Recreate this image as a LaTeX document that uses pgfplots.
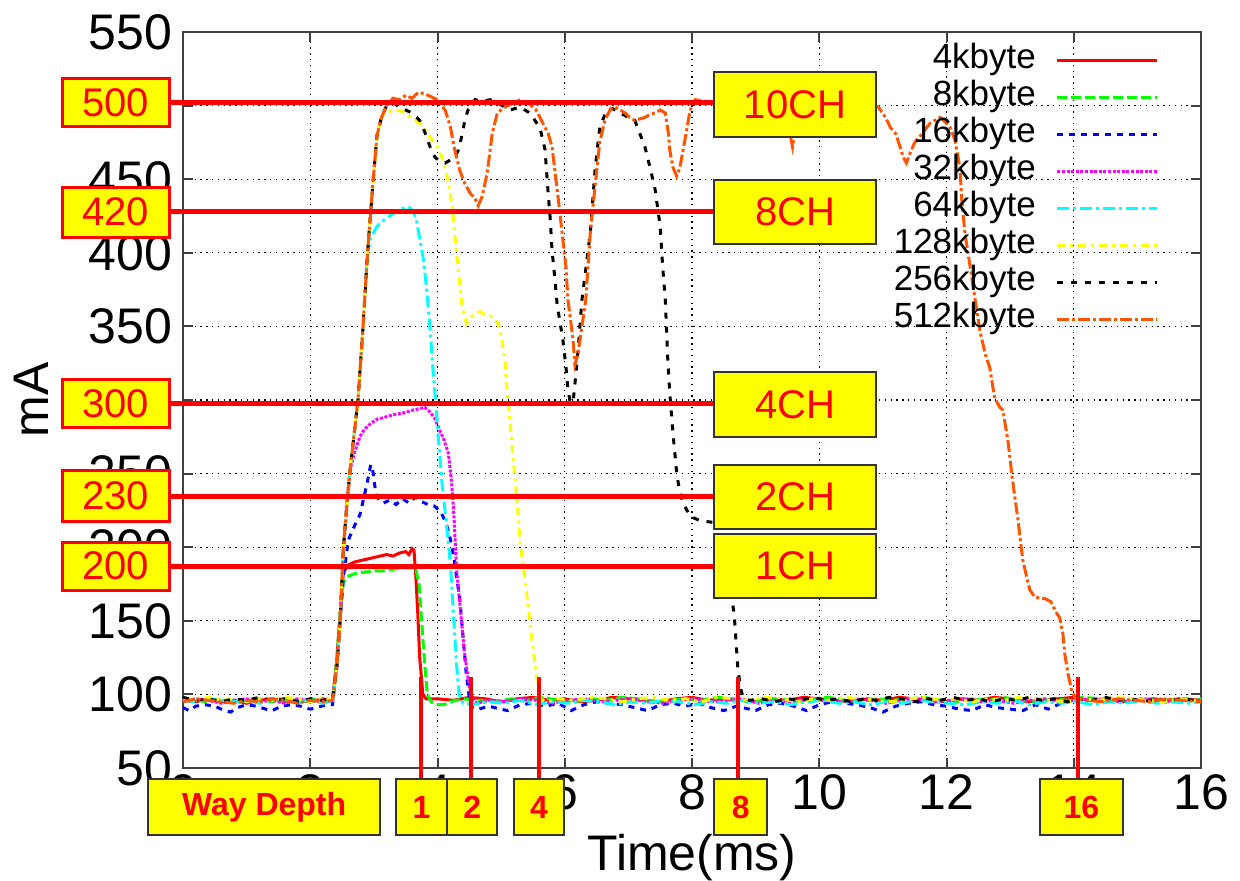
\documentclass[border=0pt]{standalone}
\usepackage{fontspec}
\setmainfont{Liberation Sans}
\usepackage{pgfplots}
\pgfplotsset{compat=1.18}
\usetikzlibrary{calc}
\definecolor{cgreen}{RGB}{0,255,0}
\definecolor{cblue}{RGB}{0,0,255}
\definecolor{cmag}{RGB}{255,0,255}
\definecolor{ccyan}{RGB}{0,255,255}
\definecolor{cyel}{RGB}{255,255,0}
\definecolor{corange}{RGB}{255,85,0}
\definecolor{boxyel}{RGB}{255,255,0}
\begin{document}
\begin{tikzpicture}
\begin{axis}[
  scale only axis, width=509pt, height=368pt,
  xmin=0, xmax=16, ymin=50, ymax=550,
  xtick={0,2,...,16}, ytick={50,100,...,550},
  tick pos=both, tick align=inside, major tick length=5pt,
  grid=major, major grid style={black, line width=0.6pt, dash pattern=on 0.7pt off 2.2pt},
  axis line style={black!75, line width=1pt},
  tick style={black!75, line width=1pt},
  ticklabel style={font=\fontsize{25}{25}\selectfont},
  /pgf/number format/assume math mode=true,
  yticklabel style={xshift=-2pt},
  xlabel={Time(ms)}, ylabel={mA},
  label style={font=\fontsize{25}{25}\selectfont},
  xlabel style={at={(axis description cs:0.5,-0.122)}, anchor=center},
  ylabel style={at={(axis description cs:-0.149,0.5)}, anchor=center},
  clip=false,
  legend style={draw=none, fill=none, at={(0.959,0.987)}, anchor=north east, inner sep=0pt,
    font=\fontsize{17.5}{18}\selectfont,
    nodes={inner sep=1pt, text height=12.5pt, text depth=4pt},
    /tikz/every odd column/.append style={column sep=9pt}},
  legend plot pos=right, legend cell align=right,
  legend image code/.code={\draw[#1] (0pt,0pt) -- (50pt,0pt);},
]
% 4kbyte
\addplot[red, line width=1.5pt] coordinates {
(0,96)(0.2,95)(0.4,97)(0.6,95)(0.8,96)(1.0,94)(1.2,96)(1.4,97)(1.6,95)(1.8,96)(2.0,95)(2.2,97)(2.35,96)
(2.42,125)(2.47,155)(2.52,183)(2.6,188)(2.7,190)(2.8,191)(2.9,192)(3.0,193)(3.1,194)(3.2,195)(3.3,194)(3.4,196)(3.5,197)(3.55,195)(3.6,199)(3.63,198)(3.66,180)(3.69,155)(3.72,125)(3.77,100)(3.82,97)
(4.0,97)(4.25,96)(4.5,98)(4.75,97)(5.0,95)(5.25,97)(5.5,98)(5.75,96)(6.0,97)(6.25,95)(6.5,96)(6.75,98)(7.0,97)(7.25,96)(7.5,95)(7.75,97)(8.0,98)(8.25,96)(8.5,97)(8.75,96)(9.0,95)(9.25,97)(9.5,96)(9.75,98)(10.0,97)(10.25,96)(10.5,95)(10.75,97)(11.0,96)(11.25,98)(11.5,97)(11.75,96)(12.0,95)(12.25,97)(12.5,96)(12.75,98)(13.0,97)(13.25,95)(13.5,96)(13.75,97)(14.0,98)(14.25,96)(14.5,97)(14.75,95)(15.0,96)(15.25,97)(15.5,96)(15.75,97)(16.0,96)
};
\addlegendentry{4kbyte}
% 8kbyte
\addplot[cgreen, line width=1.5pt, dash pattern=on 5pt off 2pt] coordinates {
(0,97)(0.2,96)(0.4,95)(0.6,97)(0.8,94)(1.0,96)(1.2,97)(1.4,95)(1.6,96)(1.8,94)(2.0,97)(2.2,96)(2.35,95)
(2.42,125)(2.47,155)(2.52,176)(2.58,180)(2.7,182)(2.85,183)(3.0,184)(3.15,184)(3.3,185)(3.45,186)(3.6,186)(3.66,185)(3.71,175)(3.75,150)(3.8,120)(3.84,100)(3.9,95)(3.98,93)(4.1,93)(4.2,95)
(4.4,97)(4.65,96)(4.9,95)(5.15,97)(5.4,96)(5.65,98)(5.9,96)(6.15,95)(6.4,97)(6.65,96)(6.9,98)(7.15,97)(7.4,95)(7.65,96)(7.9,97)(8.15,96)(8.4,98)(8.65,97)(8.9,95)(9.15,96)(9.4,97)(9.65,95)(9.9,97)(10.15,98)(10.4,96)(10.65,95)(10.9,97)(11.15,96)(11.4,97)(11.65,98)(11.9,96)(12.15,95)(12.4,97)(12.65,96)(12.9,98)(13.15,96)(13.4,95)(13.65,97)(13.9,96)(14.15,98)(14.4,97)(14.65,96)(14.9,95)(15.15,97)(15.4,96)(15.65,97)(15.9,96)(16.0,97)
};
\addlegendentry{8kbyte}
% 16kbyte
\addplot[cblue, line width=1.5pt, dash pattern=on 3pt off 3pt] coordinates {
(0,91)(0.1,89)(0.2,92)(0.35,93)(0.5,92)(0.65,89)(0.75,88)(0.85,91)(1.0,93)(1.15,92)(1.3,90)(1.4,89)(1.55,92)(1.7,93)(1.85,92)(2.0,90)(2.1,91)(2.25,93)(2.35,93)
(2.42,120)(2.47,150)(2.52,180)(2.6,205)(2.7,215)(2.78,222)(2.85,235)(2.9,245)(2.95,256)(2.98,253)(3.02,240)(3.07,233)(3.15,230)(3.25,232)(3.35,229)(3.45,233)(3.55,230)(3.65,234)(3.75,231)(3.85,229)(3.95,228)(4.05,224)(4.12,218)(4.18,210)(4.25,195)(4.3,180)(4.35,165)(4.4,140)(4.45,115)(4.5,98)(4.55,91)
(4.65,90)(4.8,92)(5.0,90)(5.1,89)(5.3,93)(5.5,94)(5.7,92)(5.9,94)(6.1,89)(6.3,93)(6.5,95)(6.7,94)(6.9,93)(7.1,91)(7.3,89)(7.5,93)(7.7,94)(7.9,92)(8.1,94)(8.3,91)(8.5,89)(8.7,92)(8.9,90)(9.0,89)(9.2,93)(9.4,94)(9.6,92)(9.8,89)(10.0,93)(10.2,95)(10.4,94)(10.6,93)(10.8,91)(11.0,88)(11.2,92)(11.4,94)(11.6,95)(11.8,93)(12.0,92)(12.2,90)(12.4,89)(12.6,93)(12.8,91)(13.0,90)(13.2,89)(13.4,93)(13.6,90)(13.8,94)
};
\addlegendentry{16kbyte}
% 32kbyte
\addplot[cmag, line width=1.5pt, dash pattern=on 1.5pt off 0.8pt] coordinates {
(0,95)(0.2,97)(0.4,96)(0.6,94)(0.8,96)(1.0,97)(1.2,95)(1.4,96)(1.6,94)(1.8,97)(2.0,96)(2.2,95)(2.35,96)
(2.42,120)(2.47,150)(2.52,195)(2.58,235)(2.64,255)(2.7,265)(2.78,275)(2.85,280)(2.95,284)(3.05,287)(3.15,288)(3.3,290)(3.45,291)(3.6,293)(3.7,294)(3.8,295)(3.88,292)(3.95,288)(4.02,281)(4.1,273)(4.17,264)(4.22,245)(4.26,220)(4.3,185)(4.35,162)(4.42,130)(4.5,105)(4.55,97)(4.62,94)
(4.8,96)(5.05,95)(5.3,97)(5.55,96)(5.8,94)(6.05,96)(6.3,97)(6.55,95)(6.8,96)(7.05,97)(7.3,95)(7.55,94)(7.8,96)(8.05,97)(8.3,95)(8.55,96)(8.8,97)(9.05,94)(9.3,96)(9.55,95)(9.8,97)(10.05,96)(10.3,95)(10.55,97)(10.8,96)(11.05,94)(11.3,96)(11.55,97)(11.8,95)(12.05,96)(12.3,97)(12.55,95)(12.8,96)(13.05,94)(13.3,96)(13.55,97)(13.8,95)(14.05,96)(14.3,97)(14.55,96)(14.8,95)(15.05,97)(15.3,96)(15.55,95)(15.8,96)(16.0,96)
};
\addlegendentry{32kbyte}
% 64kbyte
\addplot[ccyan, line width=1.5pt, dash pattern=on 6pt off 2pt on 1.5pt off 2pt] coordinates {
(0,96)(0.2,95)(0.4,97)(0.6,96)(0.8,95)(1.0,96)(1.2,94)(1.4,96)(1.6,97)(1.8,95)(2.0,96)(2.2,94)(2.35,96)
(2.42,120)(2.47,150)(2.52,200)(2.62,250)(2.75,300)(2.83,350)(2.9,400)(2.95,410)(3.05,418)(3.15,422)(3.25,425)(3.35,428)(3.45,430)(3.55,431)(3.62,428)(3.67,422)(3.72,410)(3.78,395)(3.83,375)(3.88,350)(3.93,320)(3.97,300)(4.02,270)(4.07,244)(4.13,220)(4.2,190)(4.25,155)(4.3,120)(4.34,100)(4.4,94)
(4.55,93)(4.8,95)(5.05,94)(5.3,96)(5.55,93)(5.8,95)(6.05,94)(6.3,96)(6.55,95)(6.8,93)(7.05,95)(7.3,94)(7.55,96)(7.8,95)(8.05,93)(8.3,95)(8.55,94)(8.8,96)(9.05,94)(9.3,95)(9.55,93)(9.8,95)(10.05,96)(10.3,94)(10.55,95)(10.8,93)(11.05,95)(11.3,94)(11.55,96)(11.8,95)(12.05,94)(12.3,93)(12.55,95)(12.8,94)(13.05,96)(13.3,93)(13.55,95)(13.8,94)(14.05,95)(14.3,93)(14.55,95)(14.8,94)(15.05,96)(15.3,94)(15.55,95)(15.8,94)(16.0,95)
};
\addlegendentry{64kbyte}
% 128kbyte
\addplot[cyel, line width=1.5pt, dash pattern=on 4pt off 2.5pt on 1.5pt off 2.5pt] coordinates {
(0,97)(0.2,96)(0.4,98)(0.6,96)(0.8,97)(1.0,95)(1.2,97)(1.4,96)(1.6,98)(1.8,97)(2.0,95)(2.2,98)(2.35,96)
(2.42,120)(2.47,150)(2.52,200)(2.62,250)(2.75,300)(2.83,350)(2.9,400)(2.99,450)(3.05,480)(3.1,490)(3.15,494)(3.25,496)(3.35,497)(3.45,496)(3.55,493)(3.65,490)(3.72,488)(3.8,484)(3.88,479)(3.95,474)(4.0,472)(4.06,466)(4.12,458)(4.16,450)(4.2,440)(4.24,428)(4.27,413)(4.31,395)(4.35,379)(4.38,366)(4.42,357)(4.46,352)(4.52,356)(4.6,359)(4.67,360)(4.75,358)(4.83,357)(4.9,355)(4.95,352)(5.01,341)(5.06,327)(5.09,307)(5.14,286)(5.19,259)(5.25,232)(5.3,203)(5.38,176)(5.45,150)(5.52,125)(5.58,105)(5.62,97)(5.7,95)
(5.9,97)(6.15,96)(6.4,98)(6.65,97)(6.9,95)(7.15,97)(7.4,98)(7.65,96)(7.9,97)(8.15,95)(8.4,98)(8.65,97)(8.9,96)(9.15,98)(9.4,97)(9.65,95)(9.9,97)(10.15,96)(10.4,98)(10.65,97)(10.9,96)(11.15,95)(11.4,97)(11.65,98)(11.9,96)(12.15,97)(12.4,95)(12.65,97)(12.9,96)(13.15,98)(13.4,97)(13.65,96)(13.9,95)(14.15,97)(14.4,96)(14.65,98)(14.9,97)(15.15,96)(15.4,95)(15.65,97)(15.9,96)(16.0,97)
};
\addlegendentry{128kbyte}
% 256kbyte
\addplot[black, line width=1.5pt, dash pattern=on 3pt off 4pt] coordinates {
(0,98)(0.2,96)(0.4,97)(0.6,95)(0.8,97)(1.0,96)(1.2,98)(1.4,96)(1.6,97)(1.8,95)(2.0,97)(2.2,96)(2.35,97)
(2.42,120)(2.47,150)(2.52,200)(2.62,250)(2.75,300)(2.83,350)(2.9,400)(2.99,450)(3.05,480)(3.12,492)(3.2,500)(3.3,502)(3.4,499)(3.5,497)(3.6,495)(3.72,490)(3.8,482)(3.9,470)(3.96,465)(4.04,462)(4.12,461)(4.2,463)(4.27,465)(4.33,470)(4.38,479)(4.43,490)(4.48,497)(4.59,504)(4.7,503)(4.83,504)(4.98,501)(5.14,497)(5.3,499)(5.45,495)(5.61,485)(5.69,470)(5.74,440)(5.77,424)(5.8,402)(5.85,380)(5.88,365)(5.97,341)(6.02,322)(6.05,307)(6.08,300)(6.13,298)(6.16,311)(6.21,334)(6.27,368)(6.4,413)(6.48,458)(6.55,485)(6.66,497)(6.75,498)(6.87,495)(7.0,492)(7.1,490)(7.18,481)(7.26,472)(7.34,458)(7.42,443)(7.5,418)(7.54,390)(7.58,368)(7.62,327)(7.65,305)(7.7,278)(7.76,250)(7.81,237)(7.86,230)(7.97,221)(8.13,218)(8.31,217)(8.44,217)(8.55,195)(8.62,170)(8.67,150)(8.72,118)(8.76,105)(8.8,98)
(8.9,96)(9.1,97)(9.3,95)(9.5,97)(9.7,96)(9.9,98)(10.1,96)(10.3,97)(10.5,95)(10.7,97)(10.9,96)(11.1,98)(11.3,97)(11.5,95)(11.7,97)(11.9,96)(12.1,98)(12.3,96)(12.5,97)(12.7,95)(12.9,97)(13.1,96)(13.3,98)(13.5,96)(13.7,97)(13.9,95)(14.1,97)(14.3,96)(14.5,98)(14.7,96)(14.9,97)(15.1,95)(15.3,97)(15.5,96)(15.7,97)(15.9,96)(16.0,97)
};
\addlegendentry{256kbyte}
% 512kbyte
\addplot[corange, line width=1.5pt, dash pattern=on 6pt off 1.5pt on 1.5pt off 1.5pt] coordinates {
(0,95)(0.2,97)(0.4,96)(0.6,95)(0.8,94)(1.0,96)(1.2,95)(1.4,97)(1.6,96)(1.8,94)(2.0,96)(2.2,95)(2.35,96)
(2.42,120)(2.47,150)(2.52,200)(2.62,250)(2.75,300)(2.83,350)(2.9,400)(2.99,450)(3.05,480)(3.12,492)(3.2,500)(3.3,505)(3.4,504)(3.5,507)(3.6,505)(3.7,509)(3.8,508)(3.9,506)(4.0,504)(4.06,500)(4.12,497)(4.2,486)(4.27,470)(4.35,456)(4.43,447)(4.52,440)(4.59,437)(4.64,432)(4.7,438)(4.78,454)(4.86,481)(4.94,495)(5.06,499)(5.2,502)(5.3,504)(5.45,501)(5.55,497)(5.61,492)(5.74,481)(5.8,472)(5.85,454)(5.9,436)(5.96,413)(6.02,390)(6.05,368)(6.13,341)(6.16,324)(6.2,330)(6.24,341)(6.33,368)(6.4,413)(6.48,447)(6.55,475)(6.63,490)(6.71,497)(6.79,499)(6.87,497)(6.95,495)(7.02,492)(7.1,490)(7.18,491)(7.26,492)(7.34,494)(7.42,495)(7.5,497)(7.58,495)(7.63,481)(7.65,470)(7.7,458)(7.76,452)(7.81,458)(7.89,477)(7.97,497)(8.05,504)(8.2,503)(8.35,502)(8.5,500)(8.65,497)(8.8,478)(8.9,496)(9.0,500)(9.2,502)(9.4,499)(9.5,490)(9.58,472)(9.65,490)(9.75,500)(9.9,502)(10.1,501)(10.3,503)(10.5,500)(10.7,502)(10.93,499)(11.04,492)(11.12,485)(11.2,481)(11.27,472)(11.32,465)(11.37,461)(11.43,468)(11.5,475)(11.58,479)(11.74,488)(11.9,492)(12.05,486)(12.13,477)(12.21,458)(12.24,436)(12.29,413)(12.37,391)(12.45,368)(12.53,346)(12.61,331)(12.68,322)(12.72,311)(12.76,301)(12.84,295)(12.89,293)(12.92,284)(12.97,271)(13.03,248)(13.08,232)(13.12,220)(13.16,205)(13.2,191)(13.27,178)(13.31,171)(13.39,166)(13.55,165)(13.64,163)(13.72,156)(13.78,152)(13.83,141)(13.86,127)(13.91,114)(13.97,102)(14.02,98)
(14.2,96)(14.45,95)(14.7,97)(14.95,96)(15.2,95)(15.45,97)(15.7,96)(16.0,95)
};
\addlegendentry{512kbyte}

% ---- annotations: horizontal red lines
\draw[red, line width=2.5pt] (axis cs:-0.22,502) -- (axis cs:8.35,502);
\draw[red, line width=2.5pt] (axis cs:-0.22,428) -- (axis cs:8.35,428);
\draw[red, line width=2.5pt] (axis cs:-0.22,297.3) -- (axis cs:8.35,297.3);
\draw[red, line width=2.5pt] (axis cs:-0.22,234.5) -- (axis cs:8.35,234.5);
\draw[red, line width=2.5pt] (axis cs:-0.22,187.2) -- (axis cs:8.35,187.2);
% left boxes
\draw[red, line width=1.5pt, fill=boxyel] (axis cs:-1.90,485.5) rectangle (axis cs:-0.22,518.1);
\node[red, font=\fontsize{20}{20}\selectfont] at (axis cs:-1.06,501.8) {500};
\draw[red, line width=1.5pt, fill=boxyel] (axis cs:-1.90,410.7) rectangle (axis cs:-0.22,444.7);
\node[red, font=\fontsize{20}{20}\selectfont] at (axis cs:-1.06,427.7) {420};
\draw[red, line width=1.5pt, fill=boxyel] (axis cs:-1.90,281) rectangle (axis cs:-0.22,313.6);
\node[red, font=\fontsize{20}{20}\selectfont] at (axis cs:-1.06,297.3) {300};
\draw[red, line width=1.5pt, fill=boxyel] (axis cs:-1.90,217.8) rectangle (axis cs:-0.22,251.8);
\node[red, font=\fontsize{20}{20}\selectfont] at (axis cs:-1.06,234.8) {230};
\draw[red, line width=1.5pt, fill=boxyel] (axis cs:-1.90,170.9) rectangle (axis cs:-0.22,203.5);
\node[red, font=\fontsize{20}{20}\selectfont] at (axis cs:-1.06,187.2) {200};
% right boxes
\draw[black!80, line width=1pt, fill=boxyel] (axis cs:8.35,478.7) rectangle (axis cs:10.89,522.8);
\node[red, font=\fontsize{20}{20}\selectfont] at (axis cs:9.62,500.75) {10CH};
\draw[black!80, line width=1pt, fill=boxyel] (axis cs:8.35,406) rectangle (axis cs:10.89,449.5);
\node[red, font=\fontsize{20}{20}\selectfont] at (axis cs:9.62,427.75) {8CH};
\draw[black!80, line width=1pt, fill=boxyel] (axis cs:8.35,274.9) rectangle (axis cs:10.89,319);
\node[red, font=\fontsize{20}{20}\selectfont] at (axis cs:9.62,297) {4CH};
\draw[black!80, line width=1pt, fill=boxyel] (axis cs:8.35,212.4) rectangle (axis cs:10.89,255.8);
\node[red, font=\fontsize{20}{20}\selectfont] at (axis cs:9.62,234.1) {2CH};
\draw[black!80, line width=1pt, fill=boxyel] (axis cs:8.35,165.5) rectangle (axis cs:10.89,209);
\node[red, font=\fontsize{20}{20}\selectfont] at (axis cs:9.62,187.25) {1CH};
% vertical red lines
\draw[red, line width=2pt] (axis cs:3.74,111.8) -- (axis cs:3.74,42.5);
\draw[red, line width=2pt] (axis cs:4.53,111.8) -- (axis cs:4.53,42.5);
\draw[red, line width=2pt] (axis cs:5.60,111.8) -- (axis cs:5.60,42.5);
\draw[red, line width=2pt] (axis cs:8.72,111.8) -- (axis cs:8.72,42.5);
\draw[red, line width=2pt] (axis cs:14.07,111.8) -- (axis cs:14.07,42.5);
% bottom boxes
\draw[black!80, line width=1pt, fill=boxyel] (axis cs:-0.55,4.5) rectangle (axis cs:3.10,42.5);
\node[red, font=\fontsize{16}{16}\selectfont\bfseries] at (axis cs:1.275,23.5) {Way Depth};
\draw[black!80, line width=1pt, fill=boxyel] (axis cs:3.35,4.5) rectangle (axis cs:4.15,42.5);
\node[red, font=\fontsize{16}{16}\selectfont\bfseries] at (axis cs:3.75,23.5) {1};
\draw[black!80, line width=1pt, fill=boxyel] (axis cs:4.15,4.5) rectangle (axis cs:4.94,42.5);
\node[red, font=\fontsize{16}{16}\selectfont\bfseries] at (axis cs:4.545,23.5) {2};
\draw[black!80, line width=1pt, fill=boxyel] (axis cs:5.20,4.5) rectangle (axis cs:5.99,42.5);
\node[red, font=\fontsize{16}{16}\selectfont\bfseries] at (axis cs:5.595,23.5) {4};
\draw[black!80, line width=1pt, fill=boxyel] (axis cs:8.35,4.5) rectangle (axis cs:9.18,42.5);
\node[red, font=\fontsize{16}{16}\selectfont\bfseries] at (axis cs:8.765,23.5) {8};
\draw[black!80, line width=1pt, fill=boxyel] (axis cs:13.47,4.5) rectangle (axis cs:14.77,42.5);
\node[red, font=\fontsize{16}{16}\selectfont\bfseries] at (axis cs:14.12,23.5) {16};
\end{axis}
\pgfresetboundingbox
\path ($(current axis.south west)+(-91.5pt,-56pt)$) rectangle ($(current axis.south west)+(528.5pt,384pt)$);
\end{tikzpicture}
\end{document}
